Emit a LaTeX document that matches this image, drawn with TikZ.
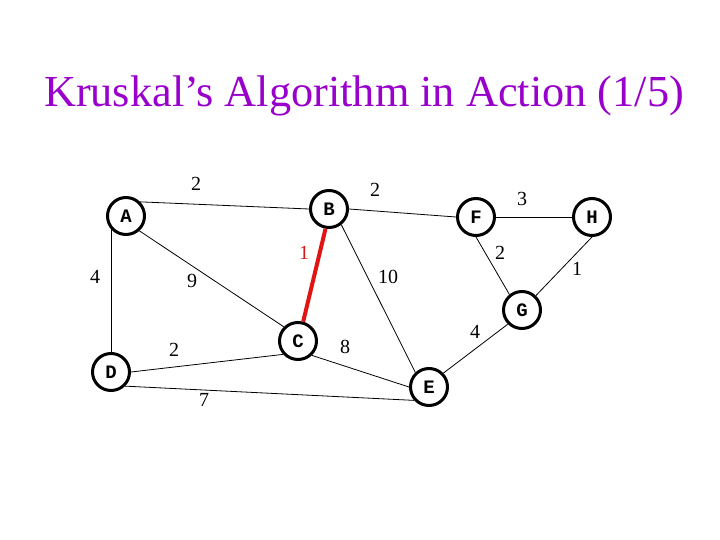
\documentclass[tikz,border=0pt]{standalone}
\usepackage{fontspec}
\setmainfont{Liberation Serif}
\newfontfamily\vmono{Liberation Mono}
\definecolor{titlepurple}{RGB}{153,0,204}
\definecolor{mstred}{RGB}{225,20,20}
\begin{document}
\begin{tikzpicture}[x=1pt,y=-1pt,
  vertex/.style={circle,draw=black,line width=3pt,minimum size=37pt,inner sep=0pt,font=\vmono\bfseries\fontsize{19}{19}\selectfont},
  edge/.style={draw=black,line width=0.8pt},
  picked/.style={draw=mstred,line width=4pt},
  wlabel/.style={font=\fontsize{20}{20}\selectfont,inner sep=0pt},
  redlabel/.style={wlabel,text=mstred}]
\useasboundingbox (0,0) rectangle (720,540);
\fill[white] (0,0) rectangle (720,540);
\node[font=\fontsize{44.3}{44.3}\selectfont,text=titlepurple,inner sep=0pt] (title) at (364,96) {Kruskal’s Algorithm in Action (1/5)};
\node[vertex] (A) at (126,216) {A};
\node[vertex] (B) at (329,209) {B};
\node[vertex] (F) at (476,217) {F};
\node[vertex] (H) at (592,217) {H};
\node[vertex] (G) at (522,310) {G};
\node[vertex] (C) at (298,341) {C};
\node[vertex] (D) at (111,372) {D};
\node[vertex] (E) at (429,387) {E};
\coordinate (ADtop) at (A.221);
\draw[edge] (A.45) -- (B.west);
\draw[edge] (ADtop) -- (ADtop |- D.north);
\draw[edge] (A.-48) -- (C.135);
\draw[edge] (B.east) -- (F.west);
\draw[picked] (B.-100) -- (C.75);
\draw[edge] (B.-52) -- (E.133);
\draw[edge] (F.east) -- (H.west);
\draw[edge] (F.south) -- (G.129);
\draw[edge] (H.south) -- (G.46);
\draw[edge] (G.-135) -- (E.44);
\draw[edge] (D.east) -- (C.222);
\draw[edge] (D.-45) -- (E.222);
\draw[edge] (C.-46) -- (E.west);
\node[wlabel] (wab) at (196,184) {2};
\node[wlabel] (wbf) at (375,190) {2};
\node[wlabel] (wfh) at (522,199) {3};
\node[wlabel] (wad) at (95,277) {4};
\node[wlabel] (wac) at (192,281) {9};
\node[redlabel] (wbc) at (304,253) {1};
\node[wlabel] (wbe) at (388,277) {10};
\node[wlabel] (wfg) at (500,253) {2};
\node[wlabel] (whg) at (577,269) {1};
\node[wlabel] (wdc) at (174,350) {2};
\node[wlabel] (wce) at (345,347) {8};
\node[wlabel] (wge) at (475,332) {4};
\node[wlabel] (wde) at (204,400) {7};
\end{tikzpicture}
\end{document}
